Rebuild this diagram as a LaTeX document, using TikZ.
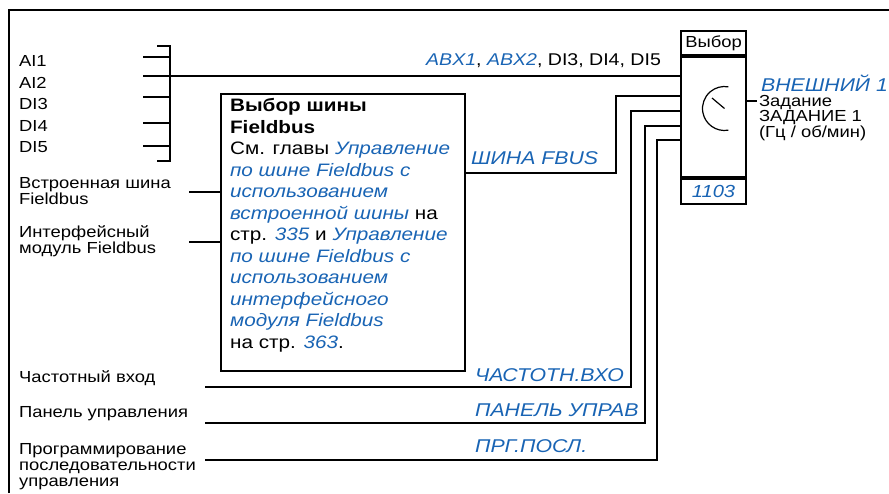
\documentclass[tikz,border=0pt]{standalone}
\usepackage{fontspec}
\setmainfont{Liberation Sans}[FakeStretch=1.15]
\definecolor{lnk}{RGB}{25,100,180}
\newcommand{\lk}[1]{\textcolor{lnk}{\textit{#1}}}
\begin{document}
\begin{tikzpicture}[x=1pt,y=-1pt,line width=2.2pt,
  lbl/.style={anchor=west,inner sep=0,align=left,font=\fontsize{16}{16}\selectfont},
  blu/.style={inner sep=0,text=lnk,font=\fontsize{18.5}{20}\selectfont\itshape},
  selbox/.style={draw,inner sep=0,minimum width=65pt},
  thin/.style={line width=1.2pt}]
\useasboundingbox (0,0) rectangle (889,493);
% outer frame
\draw[thin] (9,493) |- (889,10);

% left labels
\node[lbl] (ai1) at (18,61) {AI1};
\node[lbl] (ai2) at (18,83) {AI2};
\node[lbl] (di3) at (18,104) {DI3};
\node[lbl] (di4) at (18,126) {DI4};
\node[lbl] (di5) at (18,147) {DI5};
\node[lbl] (emb) at (18,191) {Встроенная шина\\Fieldbus};
\node[lbl] (ifm) at (18,241) {Интерфейсный\\модуль Fieldbus};
\node[lbl] (frq) at (18,378) {Частотный вход};
\node[lbl] (pnl) at (18,414) {Панель управления};
\node[lbl] (prg) at (18,467) {Программирование\\последовательности\\управления};

% selector block
\node[selbox,minimum height=120pt] (sel) at (713.5,117) {};
\node[selbox,minimum height=24pt,anchor=south,font=\fontsize{16}{16}\selectfont] (selh) at (sel.north) {Выбор};
\node[selbox,minimum height=25pt,anchor=north,text=lnk,font=\fontsize{17.5}{18}\selectfont\itshape] (self) at (sel.south) {1103};
\coordinate (dial) at (724.5,108.5);
\draw[thin] (dial) ++(80:22) arc[start angle=80,end angle=280,radius=22];
\draw[thin] (dial) -- ++(-12.5,-10.5);

% output
\coordinate (out) at (757,101);
\draw (sel.east |- out) -- (out);
\node[blu,anchor=west] (ext) at (760,83) {ВНЕШНИЙ 1};
\node[lbl,font=\fontsize{16}{15.5}\selectfont] (ref) at (758,118) {Задание\\ЗАДАНИЕ 1\\(Гц / об/мин)};

% bracket of AI/DI inputs
\coordinate (b1) at (170,46);
\coordinate (b2) at (170,161);
\draw (157,46) -- (b1) -- (b2) -- (157,161);
\foreach \yy in {57,97,123,146} \draw (143,\yy) -- (170,\yy);
\coordinate (ain) at (143,76);
\draw (ain) -- (ain -| sel.west);
\node[anchor=east,inner sep=0,font=\fontsize{17}{18}\selectfont] (abx) at (662,61)
  {\lk{ABX1}, \lk{ABX2}, DI3, DI4, DI5};

% Fieldbus box
\node[draw,inner sep=0,minimum width=244pt,minimum height=277pt,anchor=north west] (fb) at (220,93) {};
\node[anchor=north west,inner sep=0,align=left,font=\fontsize{18}{21.5}\selectfont] (fbt) at (229,97.5)
  {\textbf{Выбор шины}\\
   \textbf{Fieldbus}\\
   См. главы \lk{Управление}\\
   \lk{по шине Fieldbus с}\\
   \lk{использованием}\\
   \lk{встроенной шины} на\\
   стр. \lk{335} и \lk{Управление}\\
   \lk{по шине Fieldbus с}\\
   \lk{использованием}\\
   \lk{интерфейсного}\\
   \lk{модуля Fieldbus}\\
   на стр. \lk{363}.};
\coordinate (emb1) at (189,192);
\coordinate (ifm1) at (189,242);
\draw (emb1) -- (emb1 -| fb.west);
\draw (ifm1) -- (ifm1 -| fb.west);

% FBUS connection
\coordinate (fbo) at (464,173);
\coordinate (c1) at (616,96);
\draw (fbo -| fb.east) -| (c1) -- (c1 -| sel.west);
\node[blu,anchor=west] (fbl) at (470,158) {ШИНА FBUS};

% frequency input
\coordinate (f0) at (205,387);
\coordinate (c2) at (631,111);
\draw (f0) -| (c2) -- (c2 -| sel.west);
\node[blu,anchor=west] (fql) at (474,375) {ЧАСТОТН.ВХО};

% panel
\coordinate (p0) at (205,423);
\coordinate (c3) at (645,126);
\draw (p0) -| (c3) -- (c3 -| sel.west);
\node[blu,anchor=west] (pnll) at (474,410) {ПАНЕЛЬ УПРАВ};

% sequence programming
\coordinate (s0) at (205,460);
\coordinate (c4) at (657,140);
\draw (s0) -| (c4) -- ([xshift=2pt]c4 -| sel.west);
\node[blu,anchor=west] (prgl) at (474,446) {ПРГ.ПОСЛ.};
\end{tikzpicture}
\end{document}
